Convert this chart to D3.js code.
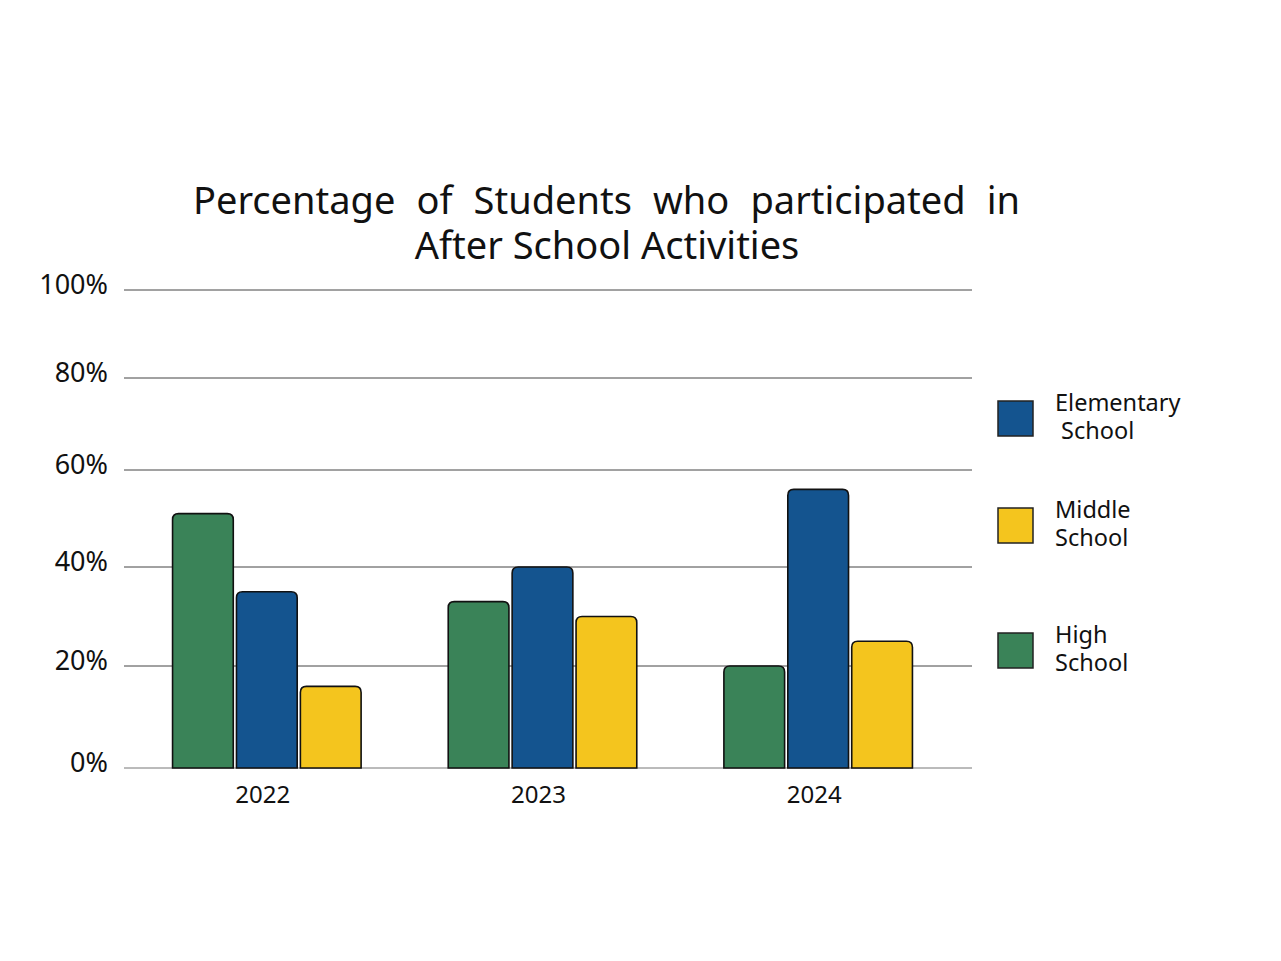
<!DOCTYPE html>
<html>
<head>
<meta charset="utf-8">
<script src="https://cdn.jsdelivr.net/npm/d3@7"></script>
<style>
  body { margin: 0; background: #fff; }
  svg { font-family: "Noto Sans", "Open Sans", sans-serif; }
</style>
</head>
<body>
<div id="chart"></div>
<script>
// data
var years = ["2022", "2023", "2024"];
var series = ["High School", "Elementary School", "Middle School"];
var highSchool = [51, 33, 20];
var elementary = [35, 40, 56];
var middleSchool = [16, 30, 25];
var yTicks = [0, 20, 40, 60, 80, 100];
var legendOrder = ["Elementary School", "Middle School", "High School"];

var values = {
  "High School": highSchool,
  "Elementary School": elementary,
  "Middle School": middleSchool
};

var color = d3.scaleOrdinal()
  .domain(series)
  .range(["#3a8358", "#14548f", "#f4c51e"]);

var width = 1281, height = 961;

var svg = d3.select("#chart").append("svg")
  .attr("width", width)
  .attr("height", height);

// the drawn grid is not evenly spaced, so map it piece by piece
var y = d3.scaleLinear()
  .domain(yTicks)
  .range([768, 666, 567, 470, 378, 290]);

var x0 = d3.scaleBand()
  .domain(years)
  .range([129, 956])
  .paddingInner(0.316)
  .paddingOuter(0.158);

var x1 = d3.scaleBand()
  .domain(series)
  .range([0, x0.bandwidth()])
  .paddingInner(0.05);

// title, first line justified by stretching the word gaps
var title = svg.append("g").attr("class", "title")
  .style("font-size", "38px")
  .style("fill", "#111");
var line1 = title.append("text")
  .attr("x", 193)
  .attr("y", 214)
  .text("Percentage of Students who participated in");
var natural = line1.node().getComputedTextLength();
var gaps = line1.text().split(" ").length - 1;
line1.style("word-spacing", ((827 - natural) / gaps) + "px");

title.append("text")
  .attr("x", 607)
  .attr("y", 259)
  .style("text-anchor", "middle")
  .text("After School Activities");

// gridlines + y labels
var grid = svg.append("g").attr("class", "grid");
grid.selectAll("line")
  .data(yTicks)
  .enter().append("line")
    .attr("x1", 124)
    .attr("x2", 972)
    .attr("y1", function(d) { return y(d); })
    .attr("y2", function(d) { return y(d); })
    .style("stroke", function(d) { return d === 0 ? "#777" : "#444"; })
    .style("stroke-width", 1);

grid.selectAll("text")
  .data(yTicks)
  .enter().append("text")
    .attr("x", 108)
    .attr("y", function(d) { return y(d) + 4; })
    .style("text-anchor", "end")
    .style("font-size", "27px")
    .style("fill", "#111")
    .text(function(d) { return d + "%"; });

// bars with rounded tops
function topRounded(x, yTop, w, h, r) {
  r = Math.min(r, h / 2, w / 2);
  return "M" + x + "," + (yTop + h) +
    "V" + (yTop + r) +
    "Q" + x + "," + yTop + " " + (x + r) + "," + yTop +
    "H" + (x + w - r) +
    "Q" + (x + w) + "," + yTop + " " + (x + w) + "," + (yTop + r) +
    "V" + (yTop + h) + "Z";
}

var groups = svg.selectAll(".year")
  .data(years)
  .enter().append("g")
    .attr("class", "year")
    .attr("transform", function(d) { return "translate(" + x0(d) + ",0)"; });

groups.selectAll("path")
  .data(function(d, i) {
    return series.map(function(s) { return { key: s, value: values[s][i] }; });
  })
  .enter().append("path")
    .attr("d", function(d) {
      return topRounded(x1(d.key), y(d.value), x1.bandwidth(), y(0) - y(d.value), 6);
    })
    .style("fill", function(d) { return color(d.key); })
    .style("stroke", "#111")
    .style("stroke-width", 1.6);

groups.append("text")
  .attr("x", x0.bandwidth() / 2 - 4)
  .attr("y", 803)
  .style("text-anchor", "middle")
  .style("font-size", "24px")
  .style("fill", "#111")
  .text(function(d) { return d; });

// legend, each label wrapped onto two lines
var legendY = [401, 508, 633];
var legend = svg.selectAll(".legend")
  .data(legendOrder)
  .enter().append("g")
    .attr("class", "legend")
    .attr("transform", function(d, i) { return "translate(998," + legendY[i] + ")"; });

legend.append("rect")
  .attr("width", 35)
  .attr("height", 35)
  .style("fill", function(d) { return color(d); })
  .style("stroke", "#222")
  .style("stroke-width", 1.5);

legend.each(function(d) {
  var words = d.split(" ");
  var g = d3.select(this);
  g.append("text")
    .attr("x", 57)
    .attr("y", 10)
    .style("font-size", "23.5px")
    .style("fill", "#111")
    .text(words[0]);
  g.append("text")
    .attr("x", d === "Elementary School" ? 63 : 57)
    .attr("y", 38)
    .style("font-size", "23.5px")
    .style("fill", "#111")
    .text(words[1]);
});
</script>
</body>
</html>
